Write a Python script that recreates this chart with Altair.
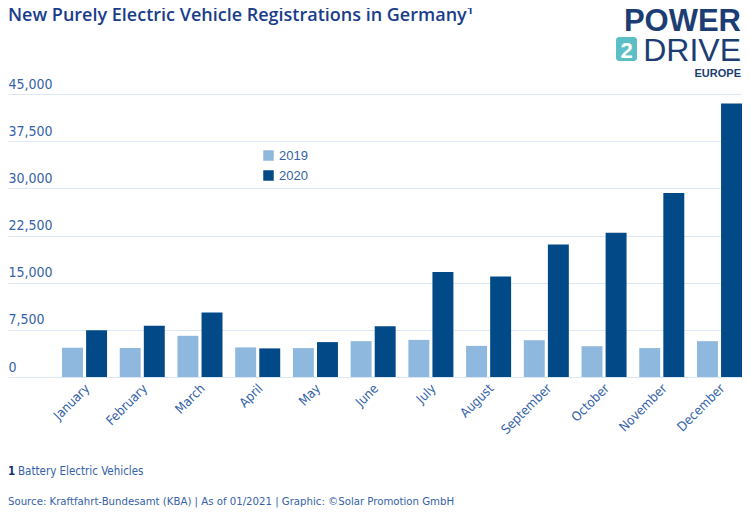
import altair as alt
import pandas as pd

months = ["January", "February", "March", "April", "May", "June", "July",
          "August", "September", "October", "November", "December"]
years = ["2019", "2020"]
values_2019 = [4650, 4600, 6550, 4700, 4600, 5700, 5900, 4950, 5850, 4900, 4600, 5700]
values_2020 = [7450, 8150, 10250, 4550, 5550, 8050, 16700, 16000, 21050, 22950, 29250, 43500]
y_ticks = [0, 7500, 15000, 22500, 30000, 37500, 45000]

title_text = ["New Purely Electric Vehicle Registrations in Germany\u00b9"]
footnote_mark = ["1"]
footnote_text = ["Battery Electric Vehicles"]
source_text = ["Source: Kraftfahrt-Bundesamt (KBA) | As of 01/2021 | Graphic: \u00a9Solar Promotion GmbH"]
logo_top = ["POWER"]
logo_num = ["2"]
logo_mid = ["DRIVE"]
logo_bottom = ["EUROPE"]

rows = []
for m, a, b in zip(months, values_2019, values_2020):
    rows.append({"month": m, "year": "2019", "value": a})
    rows.append({"month": m, "year": "2020", "value": b})
df = pd.DataFrame(rows)

NARROW = "DejaVu Sans Condensed, DejaVu Sans, sans-serif"
SANS = "Liberation Sans, Arial, sans-serif"
LABEL = "#3562a8"
NAVY = "#1c3d74"

bars = alt.Chart(df).mark_bar().encode(
    x=alt.X("month:N", sort=months, title=None,
            scale=alt.Scale(paddingInner=0.22, paddingOuter=0.468, align=1),
            axis=alt.Axis(labelAngle=-45, labelAlign="right", labelBaseline="middle",
                          labelPadding=9, labelOffset=3, labelFont=NARROW, labelFontSize=13,
                          labelColor=LABEL, ticks=False, domain=False, grid=False)),
    xOffset=alt.XOffset("year:N", sort=years, scale=alt.Scale(paddingInner=0.13)),
    y=alt.Y("value:Q", title=None,
            scale=alt.Scale(domain=[0, 45000], nice=False, zero=True),
            axis=alt.Axis(values=y_ticks, format=",.0f", labelAlign="left",
                          labelBaseline="alphabetic", labelPadding=0, labelOffset=-6,
                          tickSize=0, ticks=False, domain=False, grid=True,
                          gridColor="#dce7f5", gridWidth=1, labelFont=NARROW,
                          labelFontSize=14, labelColor=LABEL)),
    color=alt.Color("year:N",
                    scale=alt.Scale(domain=years, range=["#8fb8de", "#024a87"]),
                    legend=alt.Legend(title=None, orient="none", legendX=254, legendY=55,
                                      symbolType="square", symbolSize=110,
                                      labelFont=SANS, labelFontSize=13, labelColor=LABEL,
                                      rowPadding=6, padding=0, symbolStrokeWidth=0)),
)


def text_layer(values, x, y, **kw):
    return alt.Chart(pd.DataFrame({"t": values})).mark_text(**kw).encode(
        text="t:N", x=alt.value(x), y=alt.value(y))


title = text_layer(title_text, 0, -73, font="Open Sans", fontWeight=600, fontSize=18,
                   color="#1a3d8a", align="left", baseline="alphabetic")
power = text_layer(logo_top, 733, -63, font=SANS, fontWeight="bold", fontSize=31,
                   color=NAVY, align="right", baseline="alphabetic")
teal = alt.Chart(pd.DataFrame({"a": [0]})).mark_rect(color="#5cbfc6", cornerRadius=3).encode(
    x=alt.value(608), x2=alt.value(629), y=alt.value(-57), y2=alt.value(-33))
two = text_layer(logo_num, 618.5, -36, font=SANS, fontWeight="bold", fontSize=22,
                 color="white", align="center", baseline="alphabetic")
drive = text_layer(logo_mid, 733, -33, font=SANS, fontSize=32,
                   color=NAVY, align="right", baseline="alphabetic")
europe = text_layer(logo_bottom, 733, -17, font=SANS, fontWeight="bold", fontSize=11,
                    color=NAVY, align="right", baseline="alphabetic")
fn_mark = text_layer(footnote_mark, 0, 381, font=NARROW, fontWeight="bold", fontSize=11.5,
                     color="#13307a", align="left", baseline="alphabetic")
fn_text = text_layer(footnote_text, 10, 381, font=NARROW, fontSize=11.5,
                     color=LABEL, align="left", baseline="alphabetic")
source = text_layer(source_text, 0, 411, font=NARROW, fontSize=11.3,
                    color=LABEL, align="left", baseline="alphabetic")

chart = alt.layer(
    bars, title, power, teal, two, drive, europe, fn_mark, fn_text, source
).properties(
    width=734, height=283,
    padding={"left": 0, "top": 86, "right": 0, "bottom": 131},
    autosize=alt.AutoSizeParams(type="none"),
).configure_view(stroke=None)

chart.save("out.html", embed_options={"renderer": "svg", "actions": False})
